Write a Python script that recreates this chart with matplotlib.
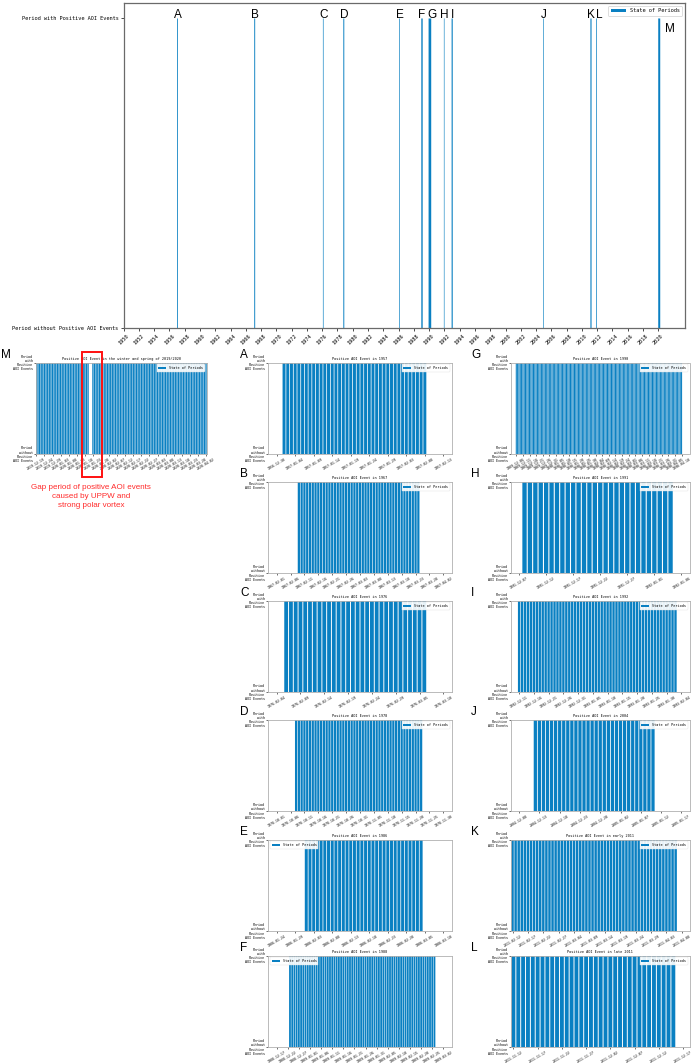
import numpy as np
import pandas as pd
import matplotlib
matplotlib.use('Agg')
import matplotlib.pyplot as plt
import matplotlib.dates as mdates
from matplotlib.patches import Rectangle

# ------------------ data ------------------
letters = ['A', 'B', 'C', 'D', 'E', 'F', 'G', 'H', 'I', 'J', 'K', 'L', 'M']
titles = [
    'Positive AOI Event in 1957',
    'Positive AOI Event in 1967',
    'Positive AOI Event in 1976',
    'Positive AOI Event in 1978',
    'Positive AOI Event in 1986',
    'Positive AOI Event in 1988',
    'Positive AOI Event in 1990',
    'Positive AOI Event in 1991',
    'Positive AOI Event in 1992',
    'Positive AOI Event in 2004',
    'Positive AOI Event in early 2011',
    'Positive AOI Event in late 2011',
    'Positive AOI Event in the winter and spring of 2019/2020',
]

# periods with positive AOI events (M is split by the gap)
period_panel = ['A', 'B', 'C', 'D', 'E', 'F', 'G', 'H', 'I', 'J', 'K', 'L', 'M', 'M']
period_start = ['1957-01-01', '1967-02-09', '1976-02-06', '1978-10-08', '1986-02-01',
                '1988-12-23', '1989-12-06', '1991-12-08', '1992-12-11', '2004-12-12',
                '2011-02-12', '2011-11-12', '2019-12-19', '2020-01-23']
period_end = ['1957-02-08', '1967-03-24', '1976-03-06', '1978-11-22', '1986-03-04',
              '1989-02-26', '1990-04-10', '1992-01-04', '1993-02-02', '2005-01-10',
              '2011-04-06', '2011-12-15', '2020-01-20', '2020-04-02']

# date ticks of the small panels (every 5 days)
tick_first = ['1956-12-30', '1967-02-01', '1976-02-04', '1978-10-01', '1986-01-24',
              '1988-12-17', '1989-12-06', '1991-12-07', '1992-12-11', '2004-12-08',
              '2011-02-12', '2011-11-12', '2019-12-19']
tick_count = [10, 13, 8, 13, 10, 16, 26, 7, 12, 9, 12, 8, 22]

# shown window of each small panel
view_from = ['1956-12-27 18:00', '1967-01-29 00:00', '1976-02-02 06:00', '1978-09-28 00:00',
             '1986-01-21 18:00', '1988-12-13 06:00', '1989-12-02 00:00', '1991-12-05 12:00',
             '1992-12-08 06:00', '2004-12-06 00:00', '2011-02-11 12:00', '2011-11-11 12:00',
             '2019-12-18 14:00']
view_to = ['1957-02-15 06:00', '1967-04-05 00:00', '1976-03-11 18:00', '1978-12-03 00:00',
           '1986-03-12 06:00', '1989-03-05 18:00', '1990-04-16 00:00', '1992-01-07 12:00',
           '1993-02-06 18:00', '2005-01-19 00:00', '2011-04-10 12:00', '2011-12-18 08:00',
           '2020-04-02 10:00']

top_years = list(range(1950, 2021, 2))
top_view = ('1949-12-28', '2023-07-01')

ylabels_top = ['Period without Positive AOI Events', 'Period with Positive AOI Events']
ylabels_small = ['Period\nwithout\nPositive\nAOI Events', 'Period\nwith\nPositive\nAOI Events']
gap_note = 'Gap period of positive AOI events\ncaused by UPPW and\nstrong polar vortex'

# ------------------ style ------------------
BLUE = '#0a80c2'
MONO = 'DejaVu Sans Mono'
SANS = 'Liberation Sans'
W, H = 699, 1063

fig = plt.figure(figsize=(W / 100, H / 100), dpi=100)


def px_axes(left, top, right, bottom):
    return fig.add_axes([left / W, 1 - bottom / H, (right - left) / W, (bottom - top) / H])


def num(d):
    return mdates.date2num(pd.Timestamp(d))


# ------------------ overview ------------------
ax = px_axes(123.5, 3, 685, 328)
for i, (s, e) in enumerate(zip(period_start, period_end)):
    x0 = num(s) - 0.5
    x1 = num(e) + 0.5
    ax.bar(x0, 1, width=x1 - x0, align='edge', color=BLUE, linewidth=0, snap=False,
           label='State of Periods' if i == 0 else '_nolegend_')
ax.set_xlim(num(top_view[0]), num(top_view[1]))
ax.set_ylim(0, 1.05)
ax.set_yticks([0, 1])
ax.set_yticklabels(ylabels_top, family=MONO, fontsize=3.8)
ax.set_xticks([num(f'{y}-01-01') for y in top_years])
ax.set_xticklabels([str(y) for y in top_years], family=MONO, fontsize=3.8, rotation=45)
ax.tick_params(length=2, width=0.5, pad=1.5)
for sp in ax.spines.values():
    sp.set_color('#6a6a6a')
    sp.set_linewidth(0.9)
leg = ax.legend(loc='upper right', prop={'family': MONO, 'size': 3.8}, handlelength=2.8,
                borderpad=0.5, framealpha=0.9)
leg.get_frame().set_edgecolor('#cccccc')
leg.get_frame().set_linewidth(0.5)

letter_offset = {'G': (1.5, 0), 'L': (2, 0), 'M': (8, -9.6)}
for L in letters:
    starts = [num(s) for s, p in zip(period_start, period_panel) if p == L]
    ends = [num(e) for e, p in zip(period_end, period_panel) if p == L]
    mid = (min(starts) - 0.5 + max(ends) + 0.5) / 2
    ax.annotate(L, xy=(mid, 1.0), xytext=letter_offset.get(L, (0, 0)),
                textcoords='offset points', ha='center', va='baseline',
                fontsize=8.5, family=SANS, annotation_clip=False)

# ------------------ small panels ------------------
col1 = (35.7, 206.7)
col2 = (268.3, 451.7)
col3 = (511, 689.5)
rows_top = [362.5, 481.5, 600.5, 719.5, 839.5, 955.5]
row_h = 91.5
place = {}
for r, L in enumerate('ABCDEF'):
    place[L] = (col2, rows_top[r])
for r, L in enumerate('GHIJKL'):
    place[L] = (col3, rows_top[r])
place['M'] = (col1, rows_top[0])
letter_x = {col1: 1, col2: 240, col3: 471}

for k, L in enumerate(letters):
    (cl, cr), top = place[L]
    ax = px_axes(cl, top, cr, top + row_h)
    first = True
    for s, e, p in zip(period_start, period_end, period_panel):
        if p != L:
            continue
        days = pd.date_range(s, e, freq='D')
        ax.bar(mdates.date2num(days), np.ones(len(days)), width=0.8, color=BLUE,
               linewidth=0, snap=False, label='State of Periods' if first else '_nolegend_')
        first = False
    ax.set_xlim(num(view_from[k]), num(view_to[k]))
    ax.set_ylim(0, 1)
    ax.set_yticks([0, 1])
    ax.set_yticklabels(ylabels_small, family=MONO, fontsize=2.4, linespacing=1.05)
    ticks = pd.date_range(tick_first[k], periods=tick_count[k], freq='5D')
    ax.set_xticks(mdates.date2num(ticks))
    ax.set_xticklabels(ticks.strftime('%Y-%m-%d'), family=MONO, fontsize=2.3, rotation=30)
    ax.tick_params(length=1.5, width=0.4, pad=0.8)
    for sp in ax.spines.values():
        sp.set_color('#b0b0b0')
        sp.set_linewidth(0.6)
    ax.set_title(titles[k], family=MONO, fontsize=2.5, pad=1.5)
    lg = ax.legend(loc='upper left' if L in 'EF' else 'upper right',
                   prop={'family': MONO, 'size': 2.5}, handlelength=2.3,
                   borderpad=0.5, framealpha=0.9)
    lg.get_frame().set_linewidth(0.3)
    lg.get_frame().set_edgecolor('#dddddd')
    fig.text(letter_x[(cl, cr)] / W, 1 - (top - 4.5) / H, L, fontsize=8.5, family=SANS,
             ha='left', va='baseline')

# gap annotation in panel M
fig.add_artist(Rectangle((81.7 / W, 1 - 476.7 / H), (102.3 - 81.7) / W, (476.7 - 352) / H,
                         transform=fig.transFigure, fill=False, edgecolor='#ff1010',
                         linewidth=1.4))
fig.text(90.8 / W, 1 - 497 / H, gap_note, ha='center', va='center', color='#ff2a2a',
         fontsize=5.8, family=SANS, linespacing=1.4)

fig.savefig('out.png', dpi=100)
